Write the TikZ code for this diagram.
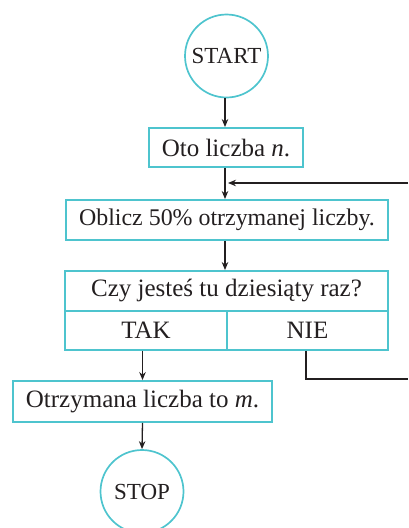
\documentclass[tikz,border=0pt]{standalone}
\usepackage{fontspec}
\setmainfont{Liberation Serif}
\usetikzlibrary{arrows.meta}
\definecolor{teal1}{HTML}{4EC4CE}
\definecolor{ink}{HTML}{231F20}
\begin{document}
\begin{tikzpicture}[x=1pt,y=-1pt,
  box/.style={draw=teal1,line width=1.9pt,inner sep=0pt,font=\fontsize{25}{28}\selectfont,text=ink},
  term/.style={draw=teal1,line width=1.7pt,circle,minimum size=83pt,inner sep=0pt,font=\fontsize{23}{26}\selectfont,text=ink},
  arr/.style={draw=ink,line width=1.3pt,-{Stealth[length=8pt,width=6.5pt]}},
  ln/.style={draw=ink,line width=1.3pt}]
\useasboundingbox (0,0) rectangle (408,528);
\node[term] (start) at (226.5,56) {START};
\node[box,minimum width=154pt,minimum height=39pt] (oto) at (226,147.5) {Oto liczba \textit{n}.};
\node[box,minimum width=322pt,minimum height=40pt,font=\fontsize{23.9}{28}\selectfont] (obl) at (227,220) {Oblicz 50\% otrzymanej liczby.};
\node[box,minimum width=323pt,minimum height=40pt] (czy) at (226.5,291) {Czy jesteś tu dziesiąty raz?};
\node[box,minimum width=162pt,minimum height=39pt] (tak) at (146,330.5) {TAK};
\node[box,minimum width=161pt,minimum height=39pt] (nie) at (307.5,330.5) {NIE};
\node[box,minimum width=259pt,minimum height=41pt] (otrz) at (142.5,401.5) {Otrzymana liczba to \textit{m}.};
\node[term] (stop) at (142,491.5) {STOP};
\coordinate (col) at (225,0);
\coordinate (e1) at (408,379);
\coordinate (e2) at (408,183);
\coordinate (j) at (228,183);
\coordinate (nb) at (306,379);
\draw[arr] (start.south -| col) -- (oto.north -| col);
\draw[arr] (oto.south -| col) -- (obl.north -| col);
\draw[arr] (obl.south -| col) -- (czy.north -| col);
\draw[arr] (e2) -- (j);
\draw[arr] (tak.south -| otrz.north) -- (otrz.north);
\draw[arr] (otrz.south) -- (stop.north);
\draw[ln] (nie.south -| nb) -- (nb) -- (e1);
\end{tikzpicture}
\end{document}
